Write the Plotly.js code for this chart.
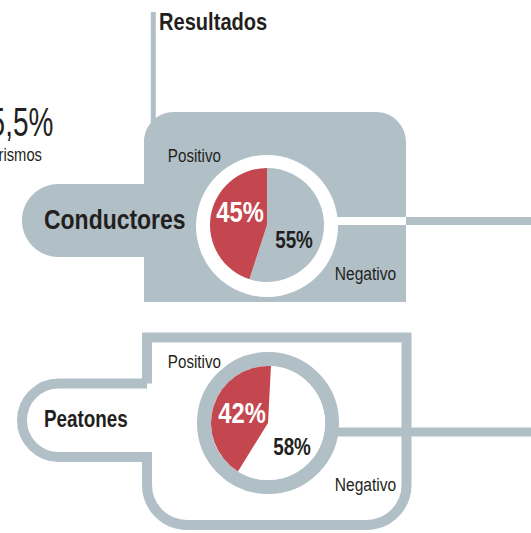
<!DOCTYPE html>
<html>
<head>
<meta charset="utf-8">
<script src="https://cdn.plot.ly/plotly-3.0.1.min.js"></script>
<style>html,body{margin:0;padding:0;background:#fff;}#chart{width:531px;height:533px;}</style>
</head>
<body>
<div id="chart"></div>
<script>
// ---- data ----
var groups = ['Conductores', 'Peatones'];
var sliceLabels = ['Positivo', 'Negativo'];
var positivo = [45, 42];
var negativo = [55, 58];
var chartTitle = 'Resultados';
var sideValue = '55,5%';
var sideLabel = 'turismos';

// ---- styles ----
var W = 531, H = 533;
var GRAY = '#b1bfc7', RED = '#c4474f', DARK = '#231f20';
var FONT = '"Liberation Sans", Arial, sans-serif';
var NARROW = 0.82;
var K = 0.5523;

// pie geometry (pixels)
var pies = [
  {cx: 267, cy: 225, r: 57, ringR: 71, rot: 0, rest: GRAY},
  {cx: 268, cy: 423, r: 57, ringR: 71, rot: 3, rest: '#ffffff'}
];

function dom(p) {
  return {
    x: [(p.cx - p.r) / W, (p.cx + p.r) / W],
    y: [1 - (p.cy + p.r) / H, 1 - (p.cy - p.r) / H]
  };
}

var data = [{type: 'scatter', x: [null], y: [null], hoverinfo: 'skip', showlegend: false}];
for (var i = 0; i < groups.length; i++) {
  data.push({
    type: 'pie',
    values: [negativo[i], positivo[i]],
    labels: [sliceLabels[1], sliceLabels[0]],
    sort: false,
    direction: 'clockwise',
    rotation: pies[i].rot,
    marker: {colors: [pies[i].rest, RED], line: {width: 0}},
    textinfo: 'none',
    hoverinfo: 'skip',
    showlegend: false,
    domain: dom(pies[i])
  });
}

function f(n) { return n.toFixed(2); }

// top (filled) box
var tl = 30, tr = 30;
var pr = 36.5, pcx = 58.5, pcy = 220.5;
var topPath = 'M144,302 L144,' + (pcy + pr) + ' L' + pcx + ',' + (pcy + pr) +
  ' C' + f(pcx - pr * K) + ',' + (pcy + pr) + ' ' + (pcx - pr) + ',' + f(pcy + pr * K) + ' ' + (pcx - pr) + ',' + pcy +
  ' C' + (pcx - pr) + ',' + f(pcy - pr * K) + ' ' + f(pcx - pr * K) + ',' + (pcy - pr) + ' ' + pcx + ',' + (pcy - pr) +
  ' L144,' + (pcy - pr) + ' L144,' + (112 + tl) +
  ' C144,' + f(112 + tl - tl * K) + ' ' + f(144 + tl - tl * K) + ',112 ' + (144 + tl) + ',112' +
  ' L' + (406 - tr) + ',112' +
  ' C' + f(406 - tr + tr * K) + ',112 406,' + f(112 + tr - tr * K) + ' 406,' + (112 + tr) +
  ' L406,302 Z';

// bottom (outlined) box
var br = 40, qr = 36.75, qcx = 58.75, qcy = 420.25;
var L = 147, R = 406.5, T = 337.5, B = 525;
var botPath = 'M' + L + ',' + (qcy - qr) + ' L' + L + ',' + T + ' L' + R + ',' + T + ' L' + R + ',' + (B - br) +
  ' C' + R + ',' + f(B - br + br * K) + ' ' + f(R - br + br * K) + ',' + B + ' ' + (R - br) + ',' + B +
  ' L' + (L + br) + ',' + B +
  ' C' + f(L + br - br * K) + ',' + B + ' ' + L + ',' + f(B - br + br * K) + ' ' + L + ',' + (B - br) +
  ' L' + L + ',' + (qcy + qr) + ' L' + qcx + ',' + (qcy + qr) +
  ' C' + f(qcx - qr * K) + ',' + (qcy + qr) + ' ' + (qcx - qr) + ',' + f(qcy + qr * K) + ' ' + (qcx - qr) + ',' + qcy +
  ' C' + (qcx - qr) + ',' + f(qcy - qr * K) + ' ' + f(qcx - qr * K) + ',' + (qcy - qr) + ' ' + qcx + ',' + (qcy - qr) +
  ' L' + L + ',' + (qcy - qr);

var shapes = [
  {type: 'line', x0: 153.3, x1: 153.3, y0: 12, y1: 130, line: {color: GRAY, width: 5}},
  {type: 'path', path: topPath, fillcolor: GRAY, line: {width: 0}},
  {type: 'rect', x0: 300, x1: 406, y0: 217, y1: 225, fillcolor: '#ffffff', line: {width: 0}},
  {type: 'rect', x0: 406, x1: 540, y0: 217, y1: 225, fillcolor: GRAY, line: {width: 0}},
  {type: 'circle', x0: pies[0].cx - pies[0].ringR, x1: pies[0].cx + pies[0].ringR,
    y0: pies[0].cy + 1 - pies[0].ringR, y1: pies[0].cy + 1 + pies[0].ringR, fillcolor: '#ffffff', line: {width: 0}},
  {type: 'path', path: botPath, fillcolor: 'rgba(0,0,0,0)', line: {color: GRAY, width: 10}},
  {type: 'rect', x0: 330, x1: 540, y0: 427.5, y1: 436.5, fillcolor: GRAY, line: {width: 0}},
  {type: 'circle', x0: pies[1].cx - 64, x1: pies[1].cx + 64, y0: pies[1].cy - 64, y1: pies[1].cy + 64,
    fillcolor: 'rgba(0,0,0,0)', line: {color: GRAY, width: 14}}
];
shapes.forEach(function (s) { s.xref = 'x'; s.yref = 'y'; s.layer = 'below'; });

var scales = [];
function ann(x, y, text, size, color, bold, xanchor, sc) {
  scales.push(sc || NARROW);
  return {xref: 'x', yref: 'y', x: x, y: y, text: bold ? '<b>' + text + '</b>' : text, showarrow: false,
    xanchor: xanchor || 'center', yanchor: 'middle', borderpad: 0,
    font: {family: FONT, size: size, color: color}};
}

var labelPos = [
  {group: [43, 219], pos: [194, 155], neg: [365, 273], pv: [240, 212], nv: [294, 240], gsize: 28},
  {group: [43, 419], pos: [194, 361], neg: [365, 484], pv: [242, 413], nv: [292, 447], gsize: 23}
];

var annotations = [
  ann(158, 21, chartTitle, 24.5, DARK, true, 'left'),
  ann(54, 122, sideValue, 40, DARK, false, 'right', 0.7),
  ann(43, 155, sideLabel, 18, DARK, false, 'right')
];
for (var j = 0; j < groups.length; j++) {
  var lp = labelPos[j];
  annotations.push(ann(lp.group[0], lp.group[1], groups[j], lp.gsize, DARK, true, 'left'));
  annotations.push(ann(lp.pos[0], lp.pos[1], sliceLabels[0], 18.5, DARK, false));
  annotations.push(ann(lp.neg[0], lp.neg[1], sliceLabels[1], 19, DARK, false));
  annotations.push(ann(lp.pv[0], lp.pv[1], positivo[j] + '%', 29, '#ffffff', true));
  annotations.push(ann(lp.nv[0], lp.nv[1], negativo[j] + '%', 23, DARK, true));
}

var layout = {
  width: W, height: H,
  margin: {l: 0, r: 0, t: 0, b: 0},
  paper_bgcolor: '#ffffff', plot_bgcolor: 'rgba(0,0,0,0)',
  showlegend: false,
  xaxis: {range: [0, W], visible: false, fixedrange: true},
  yaxis: {range: [H, 0], visible: false, fixedrange: true},
  shapes: shapes,
  annotations: annotations
};

// condensed look: squeeze each annotation text horizontally about its anchor
function narrowTexts(gd) {
  var groupsEl = gd.querySelectorAll('g.annotation');
  groupsEl.forEach(function (g) {
    var idx = +g.getAttribute('data-index');
    var t = g.querySelector('text.annotation-text');
    if (!t || isNaN(idx)) return;
    var s = scales[idx];
    var a = annotations[idx];
    var bb = t.getBBox();
    var ax = a.xanchor === 'left' ? bb.x : a.xanchor === 'right' ? bb.x + bb.width : bb.x + bb.width / 2;
    t.setAttribute('transform', 'translate(' + (ax * (1 - s)) + ',0) scale(' + s + ',1)');
  });
}

Plotly.newPlot('chart', data, layout, {displayModeBar: false, staticPlot: true}).then(function (gd) {
  narrowTexts(gd);
});
</script>
</body>
</html>
